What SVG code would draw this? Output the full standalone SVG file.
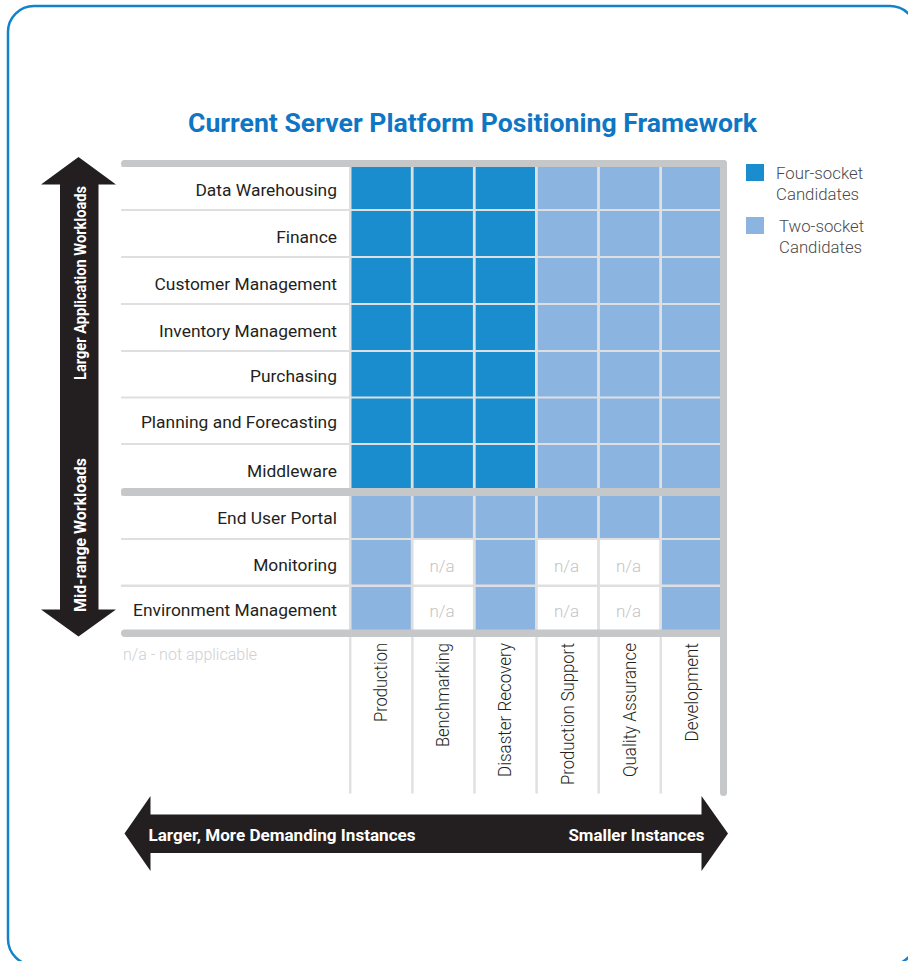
<svg xmlns="http://www.w3.org/2000/svg" width="908" height="961" viewBox="0 0 908 961">
<defs>
<style>
.frame{fill:none;stroke:#1283cb;stroke-width:2.5}
.title{font-family:Roboto,"Liberation Sans",sans-serif;font-weight:700;font-size:26px;fill:#0e76c3}
.bar{fill:#c6c7c8}
.gapbg{fill:#dedfe0}
.lbl{fill:#ffffff}
.dark{fill:#1a8dce}
.light{fill:#8bb5e0}
.na{fill:#ffffff}
.row{font-family:Roboto,"Liberation Sans",sans-serif;font-size:17.4px;fill:#231f20;text-anchor:end}
.col{font-family:Roboto,"Liberation Sans",sans-serif;font-weight:300;font-size:18px;fill:#231f20;text-anchor:end}
.natxt{font-family:Roboto,"Liberation Sans",sans-serif;font-weight:300;font-size:17px;fill:#c4c4c4;text-anchor:middle}
.note{font-family:Roboto,"Liberation Sans",sans-serif;font-weight:300;font-size:16px;fill:#cfcfcf}
.leg{font-family:Roboto,"Liberation Sans",sans-serif;font-weight:300;font-size:16.8px;fill:#4a4a4a}
.vline{stroke:#e0e1e2;stroke-width:2.5;stroke-linecap:round}
.arrow{fill:#231f20}
.atxt{font-family:Roboto,"Liberation Sans",sans-serif;font-weight:700;font-size:17px;fill:#ffffff}
</style>
</defs>
<rect class="frame" x="8" y="6" width="908" height="959" rx="26" ry="26"/>
<text id="title" class="title" x="472.5" y="132" text-anchor="middle" textLength="569" lengthAdjust="spacingAndGlyphs">Current Server Platform Positioning Framework</text>

<g id="legend">
<rect class="dark" x="746" y="164" width="18" height="17"/>
<text class="leg" x="776" y="179">Four-socket</text>
<text class="leg" x="776" y="200">Candidates</text>
<rect class="light" x="746" y="217" width="18" height="17"/>
<text class="leg" x="779" y="232">Two-socket</text>
<text class="leg" x="779" y="253">Candidates</text>
</g>

<g id="grid">
<rect class="gapbg" x="121" y="166" width="600" height="464"/>
<rect fill="#ffffff" x="349" y="637" width="371" height="157"/>
<g id="row-data-warehousing">
<rect class="lbl" x="121" y="167" width="228" height="42"/>
<text class="row" x="337" y="196">Data Warehousing</text>
<rect class="dark" x="351.5" y="167" width="59.3" height="42"/><rect class="dark" x="413.6" y="167" width="59.3" height="42"/><rect class="dark" x="475.7" y="167" width="59.3" height="42"/><rect class="light" x="537.8" y="167" width="59.3" height="42"/><rect class="light" x="599.9" y="167" width="59.3" height="42"/><rect class="light" x="662" y="167" width="58" height="42"/>
</g>
<g id="row-finance">
<rect class="lbl" x="121" y="211" width="228" height="45"/>
<text class="row" x="337" y="243">Finance</text>
<rect class="dark" x="351.5" y="211" width="59.3" height="45"/><rect class="dark" x="413.6" y="211" width="59.3" height="45"/><rect class="dark" x="475.7" y="211" width="59.3" height="45"/><rect class="light" x="537.8" y="211" width="59.3" height="45"/><rect class="light" x="599.9" y="211" width="59.3" height="45"/><rect class="light" x="662" y="211" width="58" height="45"/>
</g>
<g id="row-customer-management">
<rect class="lbl" x="121" y="258" width="228" height="45"/>
<text class="row" x="337" y="290">Customer Management</text>
<rect class="dark" x="351.5" y="258" width="59.3" height="45"/><rect class="dark" x="413.6" y="258" width="59.3" height="45"/><rect class="dark" x="475.7" y="258" width="59.3" height="45"/><rect class="light" x="537.8" y="258" width="59.3" height="45"/><rect class="light" x="599.9" y="258" width="59.3" height="45"/><rect class="light" x="662" y="258" width="58" height="45"/>
</g>
<g id="row-inventory-management">
<rect class="lbl" x="121" y="305" width="228" height="45"/>
<text class="row" x="337" y="337">Inventory Management</text>
<rect class="dark" x="351.5" y="305" width="59.3" height="45"/><rect class="dark" x="413.6" y="305" width="59.3" height="45"/><rect class="dark" x="475.7" y="305" width="59.3" height="45"/><rect class="light" x="537.8" y="305" width="59.3" height="45"/><rect class="light" x="599.9" y="305" width="59.3" height="45"/><rect class="light" x="662" y="305" width="58" height="45"/>
</g>
<g id="row-purchasing">
<rect class="lbl" x="121" y="352" width="228" height="44.5"/>
<text class="row" x="337" y="382">Purchasing</text>
<rect class="dark" x="351.5" y="352" width="59.3" height="44.5"/><rect class="dark" x="413.6" y="352" width="59.3" height="44.5"/><rect class="dark" x="475.7" y="352" width="59.3" height="44.5"/><rect class="light" x="537.8" y="352" width="59.3" height="44.5"/><rect class="light" x="599.9" y="352" width="59.3" height="44.5"/><rect class="light" x="662" y="352" width="58" height="44.5"/>
</g>
<g id="row-planning-and-forecasting">
<rect class="lbl" x="121" y="398.5" width="228" height="44.5"/>
<text class="row" x="337" y="428">Planning and Forecasting</text>
<rect class="dark" x="351.5" y="398.5" width="59.3" height="44.5"/><rect class="dark" x="413.6" y="398.5" width="59.3" height="44.5"/><rect class="dark" x="475.7" y="398.5" width="59.3" height="44.5"/><rect class="light" x="537.8" y="398.5" width="59.3" height="44.5"/><rect class="light" x="599.9" y="398.5" width="59.3" height="44.5"/><rect class="light" x="662" y="398.5" width="58" height="44.5"/>
</g>
<g id="row-middleware">
<rect class="lbl" x="121" y="445" width="228" height="43.5"/>
<text class="row" x="337" y="477">Middleware</text>
<rect class="dark" x="351.5" y="445" width="59.3" height="43.5"/><rect class="dark" x="413.6" y="445" width="59.3" height="43.5"/><rect class="dark" x="475.7" y="445" width="59.3" height="43.5"/><rect class="light" x="537.8" y="445" width="59.3" height="43.5"/><rect class="light" x="599.9" y="445" width="59.3" height="43.5"/><rect class="light" x="662" y="445" width="58" height="43.5"/>
</g>
<g id="row-end-user-portal">
<rect class="lbl" x="121" y="496" width="228" height="42"/>
<text class="row" x="337" y="524">End User Portal</text>
<rect class="light" x="351.5" y="496" width="59.3" height="42"/><rect class="light" x="413.6" y="496" width="59.3" height="42"/><rect class="light" x="475.7" y="496" width="59.3" height="42"/><rect class="light" x="537.8" y="496" width="59.3" height="42"/><rect class="light" x="599.9" y="496" width="59.3" height="42"/><rect class="light" x="662" y="496" width="58" height="42"/>
</g>
<g id="row-monitoring">
<rect class="lbl" x="121" y="540" width="228" height="44.5"/>
<text class="row" x="337" y="571">Monitoring</text>
<rect class="light" x="351.5" y="540" width="59.3" height="44.5"/><rect class="na" x="413.6" y="540" width="59.3" height="44.5"/><rect class="light" x="475.7" y="540" width="59.3" height="44.5"/><rect class="na" x="537.8" y="540" width="59.3" height="44.5"/><rect class="na" x="599.9" y="540" width="59.3" height="44.5"/><rect class="light" x="662" y="540" width="58" height="44.5"/>
<text class="natxt" x="442" y="571.5">n/a</text><text class="natxt" x="566.5" y="571.5">n/a</text><text class="natxt" x="628.5" y="571.5">n/a</text>
</g>
<g id="row-environment-management">
<rect class="lbl" x="121" y="587" width="228" height="43"/>
<text class="row" x="337" y="616">Environment Management</text>
<rect class="light" x="351.5" y="587" width="59.3" height="43"/><rect class="na" x="413.6" y="587" width="59.3" height="43"/><rect class="light" x="475.7" y="587" width="59.3" height="43"/><rect class="na" x="537.8" y="587" width="59.3" height="43"/><rect class="na" x="599.9" y="587" width="59.3" height="43"/><rect class="light" x="662" y="587" width="58" height="43"/>
<text class="natxt" x="442" y="617">n/a</text><text class="natxt" x="566.5" y="617">n/a</text><text class="natxt" x="628.5" y="617">n/a</text>
</g>
<g id="column-rules">
<line class="vline" x1="350.2" y1="637" x2="350.2" y2="792.5"/>
<line class="vline" x1="412.4" y1="637" x2="412.4" y2="792.5"/>
<line class="vline" x1="474.5" y1="637" x2="474.5" y2="792.5"/>
<line class="vline" x1="536.6" y1="637" x2="536.6" y2="792.5"/>
<line class="vline" x1="598.7" y1="637" x2="598.7" y2="792.5"/>
<line class="vline" x1="660.8" y1="637" x2="660.8" y2="792.5"/>
</g>
<g id="bars">
<rect class="bar" x="121" y="160" width="606" height="7" rx="3.5"/>
<rect class="bar" x="720" y="160" width="7" height="636" rx="3.5"/>
<rect class="bar" x="121" y="488" width="606" height="8" rx="4"/>
<rect class="bar" x="121" y="629.5" width="606" height="7.5" rx="3.7"/>
</g>
<g id="column-labels">
<text class="col" transform="translate(387,643) rotate(-90)" textLength="79" lengthAdjust="spacingAndGlyphs">Production</text>
<text class="col" transform="translate(449,643) rotate(-90)" textLength="104" lengthAdjust="spacingAndGlyphs">Benchmarking</text>
<text class="col" transform="translate(511,643) rotate(-90)" textLength="134" lengthAdjust="spacingAndGlyphs">Disaster Recovery</text>
<text class="col" transform="translate(573.5,643) rotate(-90)" textLength="142" lengthAdjust="spacingAndGlyphs">Production Support</text>
<text class="col" transform="translate(635.5,643) rotate(-90)" textLength="134" lengthAdjust="spacingAndGlyphs">Quality Assurance</text>
<text class="col" transform="translate(697.5,643) rotate(-90)" textLength="98.5" lengthAdjust="spacingAndGlyphs">Development</text>
</g>
<text id="note" class="note" x="123" y="660">n/a - not applicable</text>
</g>

<g id="connectors">
<g id="workload-axis">
<path class="arrow" d="M78.5,157 L116,184.5 L98.5,184.5 L98.5,609.5 L116,609.5 L78.5,636.5 L41,609.5 L60,609.5 L60,184.5 L41,184.5 Z"/>
<text class="atxt" transform="translate(85.5,380) rotate(-90)" textLength="194" lengthAdjust="spacingAndGlyphs">Larger Application Workloads</text>
<text class="atxt" transform="translate(85.5,612) rotate(-90)" textLength="154" lengthAdjust="spacingAndGlyphs">Mid-range Workloads</text>
</g>
<g id="instance-axis">
<path class="arrow" d="M124.5,833.5 L150.5,796 L150.5,814.5 L701.5,814.5 L701.5,796 L728,833.5 L701.5,871 L701.5,853 L150.5,853 L150.5,871 Z"/>
<text class="atxt" x="148.5" y="841" textLength="267" lengthAdjust="spacingAndGlyphs">Larger, More Demanding Instances</text>
<text class="atxt" x="704.5" y="841" text-anchor="end" textLength="136" lengthAdjust="spacingAndGlyphs">Smaller Instances</text>
</g>
</g>
</svg>
